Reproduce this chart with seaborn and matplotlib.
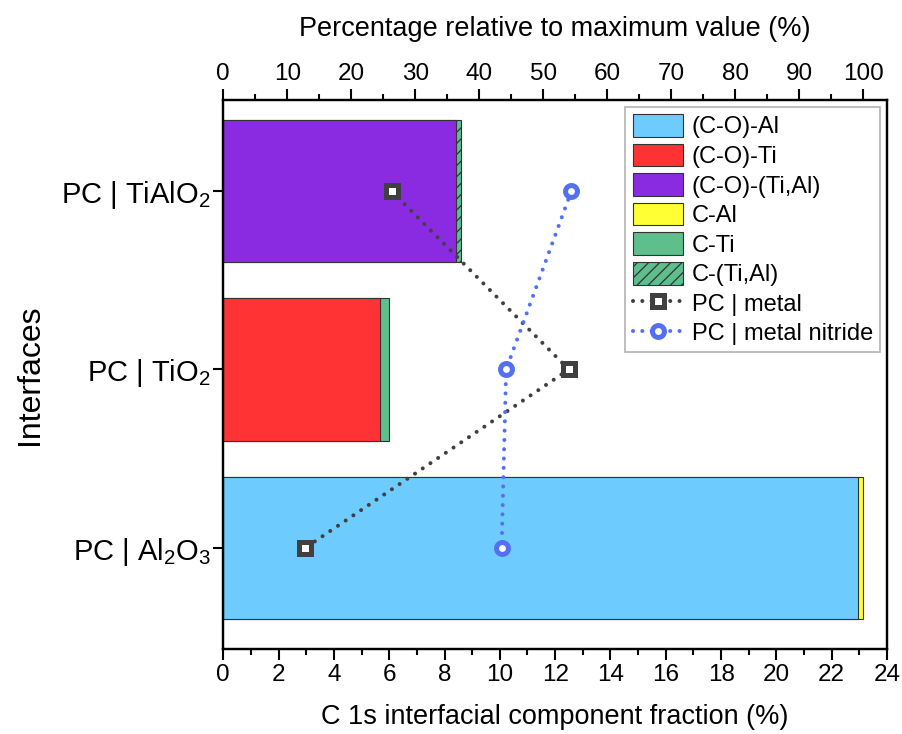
import numpy as np
import pandas as pd
import matplotlib
matplotlib.use("Agg")
import matplotlib.pyplot as plt
from matplotlib.patches import Patch
from matplotlib.lines import Line2D
from matplotlib.ticker import MultipleLocator
import seaborn as sns

# ---- data -------------------------------------------------------------
interfaces = ["PC | TiAlO$_2$", "PC | TiO$_2$", "PC | Al$_2$O$_3$"]
co_fraction = [8.40, 5.67, 22.95]        # (C-O)-metal component, %
c_fraction = [0.20, 0.31, 0.19]          # C-metal component, %
co_labels = ["(C-O)-(Ti,Al)", "(C-O)-Ti", "(C-O)-Al"]
c_labels = ["C-(Ti,Al)", "C-Ti", "C-Al"]
metal_pct = [26.3, 54.0, 12.8]           # PC | metal, % of maximum
nitride_pct = [54.4, 44.2, 43.5]         # PC | metal nitride, % of maximum

co_colors = ["#8A2BE2", "#FF3333", "#6ECBFD"]
c_colors = ["#5EBE8C", "#5EBE8C", "#FFFF33"]

# ---- style ------------------------------------------------------------
sns.set_style("ticks")
plt.rcParams["font.family"] = ["Liberation Sans", "DejaVu Sans"]
plt.rcParams["mathtext.fontset"] = "custom"
plt.rcParams["mathtext.rm"] = "Liberation Sans"
plt.rcParams["mathtext.it"] = "Liberation Sans"
plt.rcParams["mathtext.default"] = "regular"
plt.rcParams["hatch.linewidth"] = 0.9
plt.rcParams["hatch.color"] = "#2a2a2a"
for key in ["text.color", "axes.labelcolor", "xtick.color", "ytick.color",
            "axes.edgecolor"]:
    plt.rcParams[key] = "black"

df = pd.DataFrame({
    "interface": interfaces,
    "co": co_fraction,
    "c": c_fraction,
})
df["total"] = df["co"] + df["c"]
max_total = df["total"].max()

fig = plt.figure(figsize=(9.02, 7.34), dpi=100)
ax = fig.add_axes([0.2475, 0.1158, 0.9834 - 0.2475, 0.8638 - 0.1158])

edge = "#333333"
# full stack length first (C-metal colour), then the (C-O) part on top
sns.barplot(data=df, y="interface", x="total", hue="interface",
            palette=dict(zip(interfaces, c_colors)), order=interfaces,
            hue_order=interfaces, orient="h", width=0.8, errorbar=None,
            saturation=1, edgecolor=edge, linewidth=0.8, legend=False, ax=ax)
for p in ax.patches:
    yc = p.get_y() + p.get_height() / 2
    if abs(yc - 0) < 0.1:
        p.set_hatch("///")
sns.barplot(data=df, y="interface", x="co", hue="interface",
            palette=dict(zip(interfaces, co_colors)), order=interfaces,
            hue_order=interfaces, orient="h", width=0.8, errorbar=None,
            saturation=1, edgecolor=edge, linewidth=0.8, legend=False, ax=ax)

ax.set_xlim(0, 24)
ax.set_ylim(2.566, -0.51)
ax.xaxis.set_major_locator(MultipleLocator(2))
ax.xaxis.set_minor_locator(MultipleLocator(1))
ax.tick_params(axis="x", which="major", direction="out", length=8, width=1.5,
               labelsize=17.5, pad=3)
ax.tick_params(axis="x", which="minor", direction="out", length=4, width=1.5)
ax.tick_params(axis="y", which="major", direction="out", length=7, width=1.5,
               labelsize=21, pad=2)
ax.set_xlabel("C 1s interfacial component fraction (%)", fontsize=19.5,
              labelpad=13)
ax.set_ylabel("Interfaces", fontsize=23, labelpad=12)
for s in ax.spines.values():
    s.set_linewidth(1.6)
    s.set_color("black")
    s.set_visible(True)

# ---- relative percentages on the top axis -----------------------------
ax2 = ax.twiny()
pos = np.arange(len(interfaces))
pts = pd.DataFrame({"pos": pos, "metal": metal_pct, "nitride": nitride_pct})

metal_col = "#404040"
nitride_col = "#5470F2"
line_kw = dict(linestyle=(0, (0.01, 2.3)), linewidth=2.9,
               dash_capstyle="round",
               markersize=8.6, markeredgewidth=3.6, markerfacecolor="white")

sns.lineplot(data=pts, x="metal", y="pos", sort=False, estimator=None,
             color=metal_col, marker="s", markeredgecolor=metal_col,
             ax=ax2, **line_kw)
sns.lineplot(data=pts, x="nitride", y="pos", sort=False, estimator=None,
             color=nitride_col, marker="o", markeredgecolor=nitride_col,
             ax=ax2, **line_kw)

ax2.set_xlim(0, 24 / max_total * 100)
ax2.set_ylim(2.566, -0.51)
ax2.xaxis.set_major_locator(MultipleLocator(10))
ax2.xaxis.set_minor_locator(MultipleLocator(5))
ax2.tick_params(axis="x", which="major", direction="out", length=8, width=1.5,
                labelsize=17.5, pad=3)
ax2.tick_params(axis="x", which="minor", direction="out", length=4, width=1.5)
ax2.set_xlabel("Percentage relative to maximum value (%)", fontsize=19.5,
               labelpad=19)
ax2.set_ylabel("")
for s in ax2.spines.values():
    s.set_linewidth(1.6)
    s.set_color("black")

# ---- legend -----------------------------------------------------------
handles = [
    Patch(facecolor=co_colors[2], edgecolor=edge, linewidth=0.8, label=co_labels[2]),
    Patch(facecolor=co_colors[1], edgecolor=edge, linewidth=0.8, label=co_labels[1]),
    Patch(facecolor=co_colors[0], edgecolor=edge, linewidth=0.8, label=co_labels[0]),
    Patch(facecolor=c_colors[2], edgecolor=edge, linewidth=0.8, label=c_labels[2]),
    Patch(facecolor=c_colors[1], edgecolor=edge, linewidth=0.8, label=c_labels[1]),
    Patch(facecolor=c_colors[0], edgecolor=edge, linewidth=0.8, hatch="///",
          label=c_labels[0]),
    Line2D([], [], color=metal_col, marker="s", markeredgecolor=metal_col,
           label="PC | metal", **line_kw),
    Line2D([], [], color=nitride_col, marker="o", markeredgecolor=nitride_col,
           label="PC | metal nitride", **line_kw),
]
leg = ax2.legend(handles=handles, loc="upper right", fontsize=17,
                 frameon=True, fancybox=False, edgecolor="#a0a0a0",
                 handlelength=2.15, handleheight=1.1, handletextpad=0.35,
                 labelspacing=0.22, borderpad=0.3, borderaxespad=0.3)
leg.get_frame().set_linewidth(1.2)

fig.savefig("out.png", dpi=100)
